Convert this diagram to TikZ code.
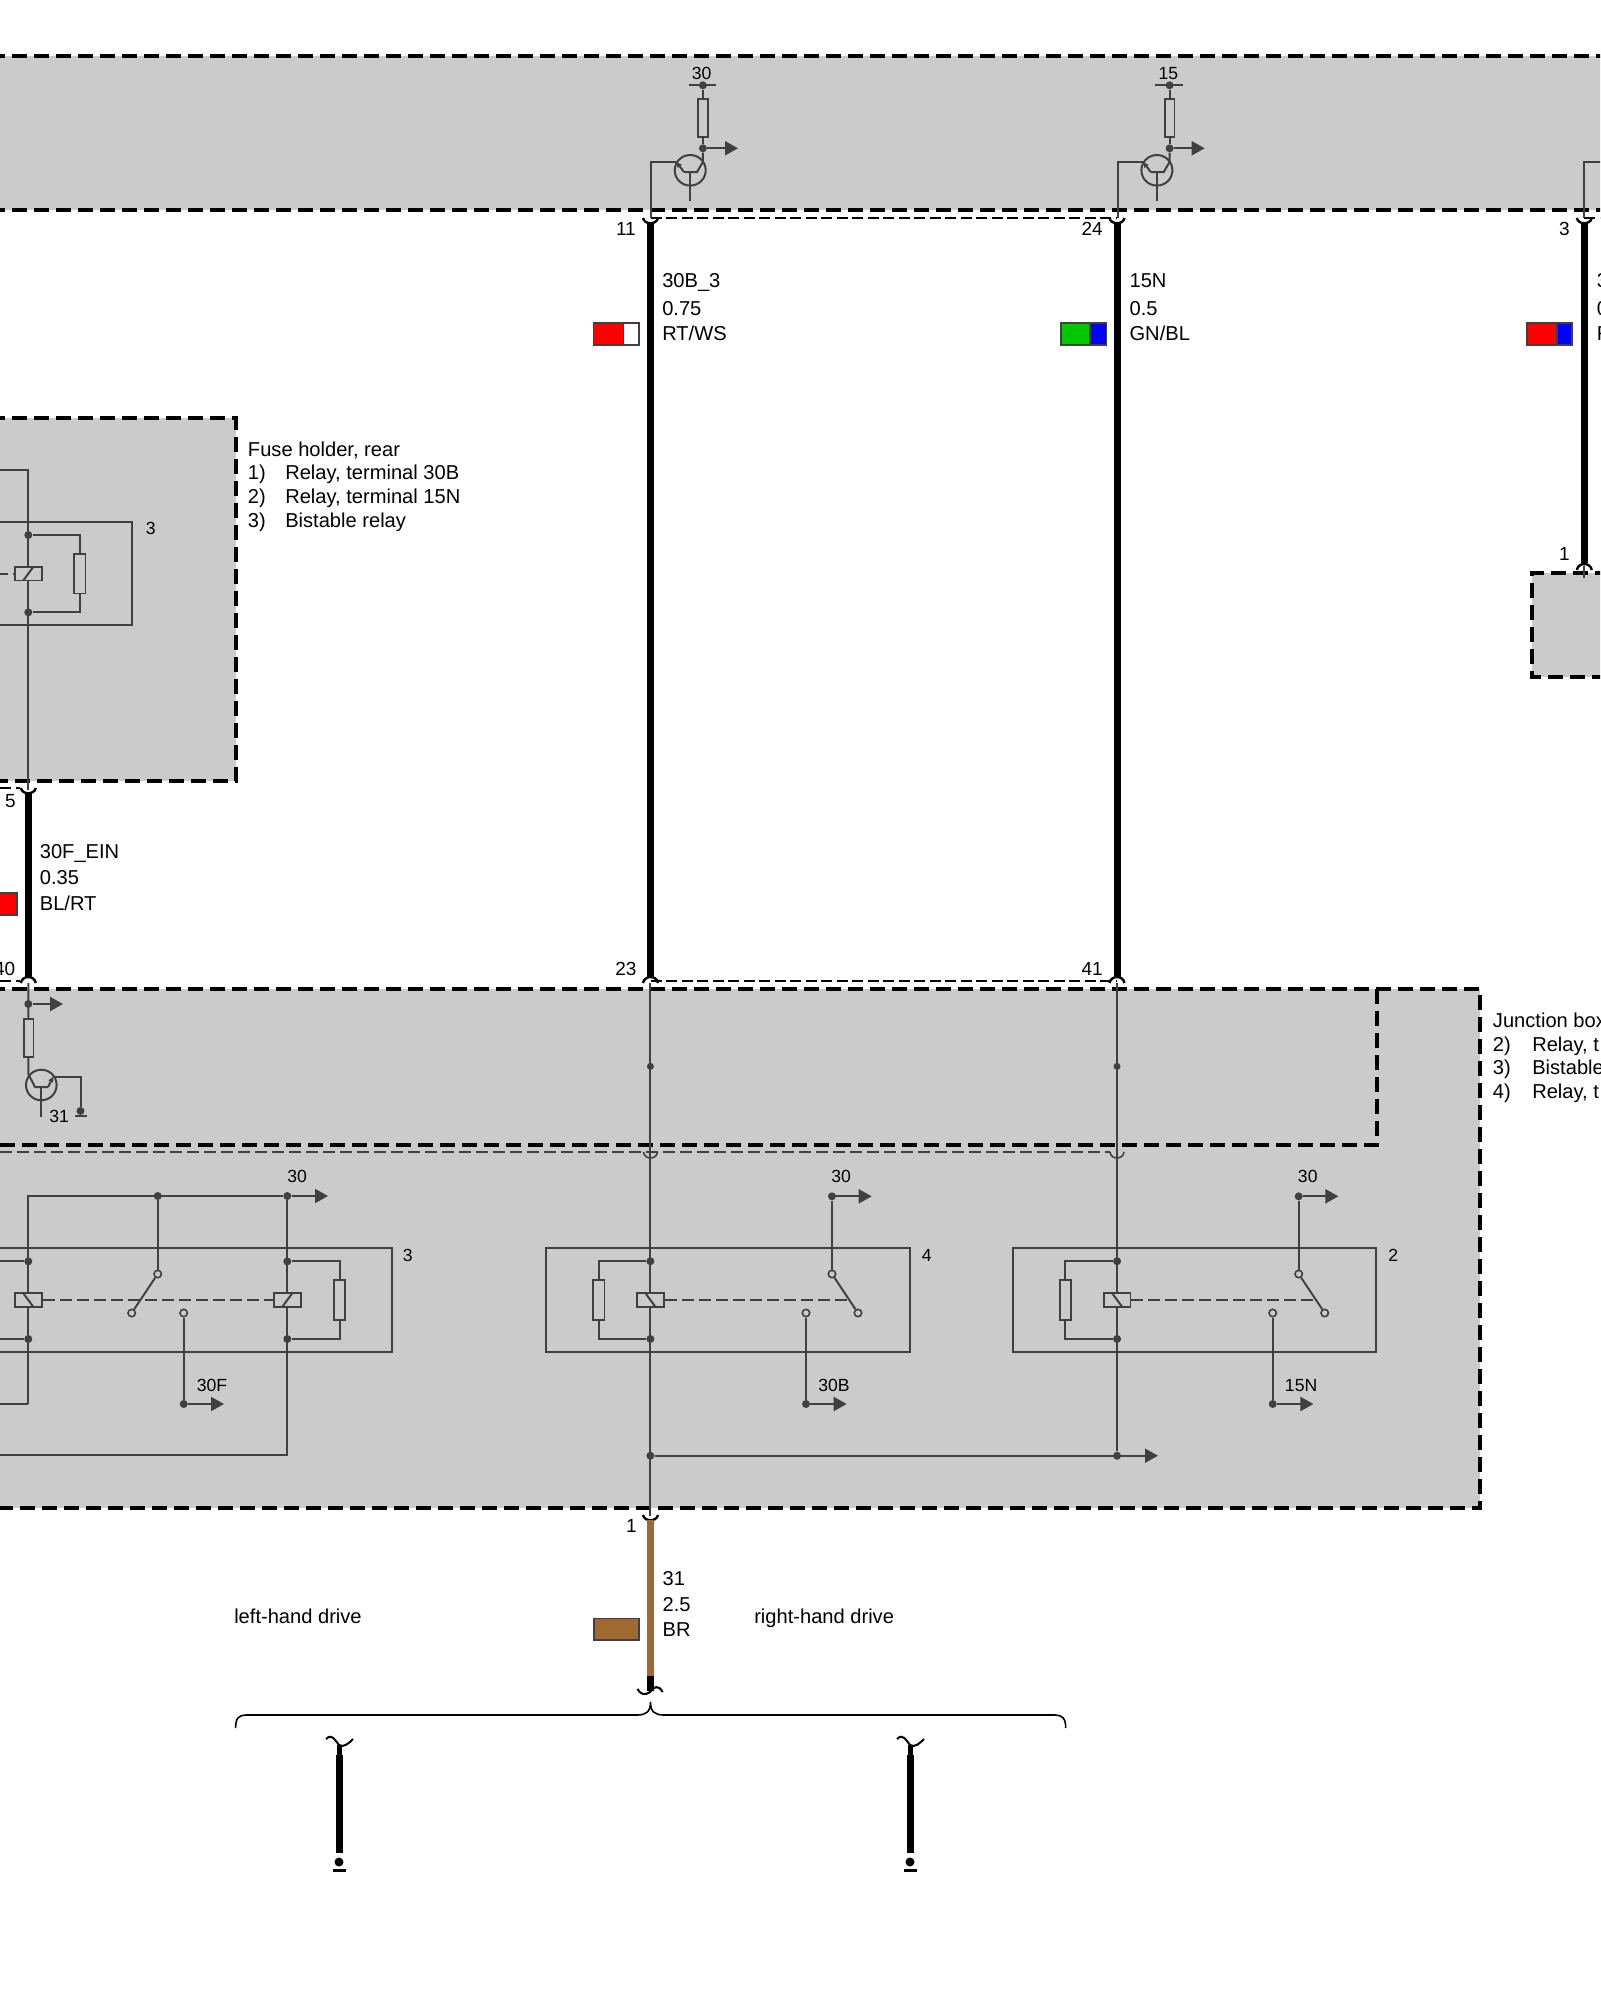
\documentclass[tikz,border=0pt]{standalone}
\usepackage{fontspec}
\setmainfont{Liberation Sans}
\usetikzlibrary{arrows.meta}

\definecolor{boxgray}{HTML}{CBCBCB}
\definecolor{linegray}{HTML}{404040}
\definecolor{brownwire}{HTML}{A0692F}
\definecolor{greenwire}{HTML}{00C800}

\def\xu{0.025cm}

\tikzset{
	boxedge/.style={black, line width=4*\xu, dash pattern=on 15*\xu off 7*\xu},
	pinrow/.style={black, line width=1.3*\xu, dash pattern=on 11*\xu off 4.5*\xu},
	linkrow/.style={linegray, line width=1.6*\xu, dash pattern=on 12*\xu off 5*\xu},
	thinwire/.style={linegray, line width=2*\xu},
	harness/.style={black, line width=7*\xu},
	signal/.style={thinwire, -{Triangle[length=13*\xu, width=14*\xu]}},
	junction/.style={circle, fill=linegray, inner sep=0pt, minimum size=8*\xu},
	contact/.style={circle, draw=linegray, fill=boxgray, line width=1.6*\xu, inner sep=0pt, minimum size=7.4*\xu},
	coil/.style={draw=linegray, fill=boxgray, line width=1.8*\xu, inner sep=0pt, minimum width=26.7*\xu, minimum height=13.6*\xu},
	resistor/.style={draw=linegray, fill=boxgray, line width=1.8*\xu, inner sep=0pt, minimum width=11.5*\xu, minimum height=39.5*\xu},
	smallres/.style={resistor, minimum width=9.5*\xu, minimum height=38*\xu},
	relaybox/.style={draw=linegray, line width=2*\xu},
	swatch/.style={draw=linegray, line width=1.5*\xu},
	texttag/.style={inner sep=0pt, anchor=base west, font=\fontsize{14.3}{16}\selectfont},
	pintag/.style={inner sep=0pt, anchor=base east, font=\fontsize{13.5}{15}\selectfont},
	smalltag/.style={inner sep=0pt, anchor=base west, font=\fontsize{12.5}{14}\selectfont},
	cuttag/.style={black, line width=2*\xu},
}

\begin{document}
\begin{tikzpicture}[x=\xu, y=-\xu]

\useasboundingbox (0,0) rectangle (1600,2000);
\clip (0,0) rectangle (1600,2000);

% module areas
\fill[boxgray] (-10,56) rectangle (1610,210);
\fill[boxgray] (-10,418) rectangle (235.5,781);
\fill[boxgray] (1532,573) rectangle (1610,677);
\fill[boxgray] (-10,989) -- (1480,989) -- (1480,1507.5) -- (-10,1507.5) -- cycle;

\draw[boxedge] (-10,56) -- (1610,56);
\draw[boxedge] (-10,210) -- (1610,210);
\draw[boxedge] (-10,418) -- (235.5,418) -- (235.5,781) -- (-10,781);
\draw[boxedge] (1610,573) -- (1532,573) -- (1532,677) -- (1610,677);
\draw[boxedge] (-10,989) -- (1480,989) -- (1480,1507.5) -- (-10,1507.5);
\draw[boxedge] (1377,989) -- (1377,1144.5) -- (-10,1144.5);

% pin rows
\draw[pinrow] (650.5,218) -- (1117,218);
\draw[pinrow] (1584.3,218) -- (1610,218);
\draw[pinrow] (650.5,981) -- (1117,981);
\draw[pinrow] (0,981) -- (20,981);
\draw[pinrow] (0,788) -- (20,788);
\draw[linkrow] (0,1152) -- (1110,1152);

% harness wires
\coordinate (pin11) at (650.5,222);
\coordinate (pin23) at (650.5,977);
\coordinate (pin24) at (1117,222);
\coordinate (pin41) at (1117,977);
\coordinate (pin3)  at (1584.3,222);
\coordinate (pin1)  at (1584.3,563);
\coordinate (pin5)  at (28.3,792);
\coordinate (pin40) at (28.3,977);
\draw[harness] (pin11) -- (pin23);
\draw[harness] (pin24) -- (pin41);
\draw[harness] (pin3) -- (pin1);
\draw[harness] (pin5) -- (pin40);

% pin cups
\foreach \x/\y/\d in {650.5/218/7, 1117/218/7, 1584.3/218/7, 28.3/788/7, 650.5/1515/7, 28.3/983/-8, 650.5/983/-8, 1117/983/-8, 1584.3/570/-8} {
	\draw[black, line width=2.4*\xu] (\x-7.5,\y) .. controls (\x-6,\y+\d) and (\x+6,\y+\d) .. (\x+7.5,\y);
}
\foreach \x in {650.5, 1117} {
	\draw[thinwire, line width=1.6*\xu] (\x-7,1152) .. controls (\x-6,1160) and (\x+6,1160) .. (\x+7,1152);
}

% drivers in the top module
\foreach \dx/\lab/\n in {0/30/a, 466.7/15/b} {
	\begin{scope}[shift={(\dx,0)}]
	\node[junction] (supply\n) at (702.9,85.3) {};
	\coordinate (barleft\n) at (688.6,85.3);
	\coordinate (barright\n) at (716,85.3);
	\node[smalltag, anchor=base] (lab\n) at (701.6,79) {\lab};
	\node[junction] (tap\n) at (702.9,148.3) {};
	\coordinate (out\n) at (738,148.3);
	\coordinate (coll\n) at (702.9,162);
	\coordinate (barr\n) at (697,172);
	\coordinate (barl\n) at (684,172);
	\coordinate (barm\n) at (690.2,172);
	\coordinate (base\n) at (690.2,201);
	\coordinate (emit\n) at (676.7,162.3);
	\coordinate (corner\n) at (651,162.3);
	\coordinate (pinend\n) at (651,218);
	\draw[thinwire] (barleft\n) -- (barright\n);
	\draw[thinwire] (supply\n) -- (tap\n);
	\node[smallres] (res\n) at (703.1,117.8) {};
	\draw[signal] (tap\n) -- (out\n);
	\draw[thinwire] (690.2,170.3) ellipse [x radius=15.5, y radius=15.3];
	\draw[thinwire] (tap\n) -- (coll\n) -- (barr\n) -- (barl\n);
	\draw[thinwire] (barm\n) -- (base\n);
	\draw[thinwire, -{Triangle[length=5*\xu, width=5*\xu]}] (barl\n) -- (emit\n);
	\draw[thinwire] (emit\n) -- (corner\n) -- (pinend\n);
	\end{scope}
}
\draw[thinwire] (1610,162) -- (1584.3,162) -- (1584.3,218);
\draw[thinwire] (1584.3,566) -- (1584.3,578);

% fuse holder
\node[junction] (fuseup) at (28.3,535) {};
\node[junction] (fusedn) at (28.3,612.3) {};
\draw[thinwire] (0,470.3) -- (28.3,470.3) -- (28.3,790);
\draw[relaybox] (-10,522.3) -- (131.7,522.3) -- (131.7,625.3) -- (-10,625.3);
\coordinate (fuseresup) at (79.7,535);
\coordinate (fuseresdn) at (79.7,612.3);
\draw[thinwire] (fuseup) -- (fuseresup) -- (fuseresdn) -- (fusedn);
\node[resistor] (fuseres) at (79.7,573.7) {};
\node[coil] (fusecoil) at (28.3,573.7) {};
\draw[thinwire] (fusecoil.center) ++(5,-6.8) -- ++(-10,13.6);
\draw[linkrow] (-4,573.7) -- (fusecoil.west);
\node[smalltag] (fusenum) at (145.5,534) {3};

% top of junction box, wire 40
\coordinate (w40top) at (28.3,983);
\node[junction] (w40tap) at (28.3,1004) {};
\coordinate (w40out) at (63,1004);
\coordinate (w40coll) at (28.3,1074);
\coordinate (w40barl) at (35,1087);
\coordinate (w40barr) at (48,1087);
\coordinate (w40barm) at (41.3,1087);
\coordinate (w40base) at (41.3,1117);
\coordinate (w40emit) at (53,1077);
\coordinate (w40gnd) at (80.5,1077);
\node[junction] (w40end) at (80.5,1111) {};
\draw[thinwire] (w40top) -- (w40coll) -- (w40barl) -- (w40barr);
\node[smallres] (w40res) at (28.8,1038) {};
\draw[signal] (w40tap) -- (w40out);
\draw[thinwire] (41.3,1085) circle [radius=15.3];
\draw[thinwire] (w40barm) -- (w40base);
\draw[thinwire, -{Triangle[length=5*\xu, width=5*\xu]}] (w40barr) -- (w40emit);
\draw[thinwire] (w40emit) -- (w40gnd) -- (w40end);
\draw[thinwire] (75,1116) -- (87,1116);
\node[smalltag] (w40lab) at (49,1122) {31};

% through wires in the junction box
\node[junction, minimum size=7*\xu] (split23) at (650.4,1066.4) {};
\node[junction, minimum size=7*\xu] (split41) at (1117,1066.4) {};
\node[junction] (gnd23) at (650.4,1455.7) {};
\node[junction] (gnd41) at (1117,1455.7) {};
\coordinate (gndout) at (1158,1455.7);
\coordinate (pin1top) at (650.4,983);
\coordinate (pin1low) at (650.4,1516);
\coordinate (pin41top) at (1117,983);
\draw[thinwire] (pin1top) -- (pin1low);
\draw[thinwire] (pin41top) -- (gnd41);
\draw[signal] (gnd23) -- (gndout);

% relays 4 and 2
\foreach \dx/\num/\lab in {0/4/30B, 466.7/2/15N} {
	\begin{scope}[shift={(\dx,0)}]
	\draw[relaybox] (546,1248) rectangle (909.7,1352);
	\node[smalltag] (num\num) at (921.5,1261) {\num};
	\node[junction] (up\num) at (650.4,1261.2) {};
	\node[junction] (dn\num) at (650.4,1339) {};
	\coordinate (resup\num) at (598.5,1261.2);
	\coordinate (resdn\num) at (598.5,1339);
	\draw[thinwire] (up\num) -- (resup\num) -- (resdn\num) -- (dn\num);
	\node[resistor] (res\num) at (598.7,1300) {};
	\node[coil] (coil\num) at (650.4,1300) {};
	\draw[thinwire] (coil\num.center) ++(-5,-6.8) -- ++(10,13.6);
	\coordinate (linkend\num) at (848,1300);
	\draw[linkrow] (coil\num.east) -- (linkend\num);
	\node[junction] (feed\num) at (832,1196.3) {};
	\coordinate (feedout\num) at (871.7,1196.3);
	\node[contact] (swtop\num) at (832,1274) {};
	\node[contact] (swlow\num) at (858,1313) {};
	\node[contact] (swout\num) at (806,1313) {};
	\node[junction] (load\num) at (806,1404) {};
	\coordinate (loadout\num) at (846.7,1404);
	\draw[signal] (feed\num) -- (feedout\num);
	\draw[thinwire] (feed\num) -- (swtop\num);
	\draw[thinwire] (swtop\num) -- (swlow\num);
	\draw[thinwire] (swout\num) -- (load\num);
	\draw[signal] (load\num) -- (loadout\num);
	\node[smalltag] (feedlab\num) at (831,1182) {30};
	\node[smalltag] (loadlab\num) at (818,1391) {\lab};
	\end{scope}
}

% bistable relay
\draw[relaybox] (-10,1248) -- (391.7,1248) -- (391.7,1352) -- (-10,1352);
\node[smalltag] (numbi) at (402.5,1261) {3};
\node[junction] (biupl) at (28.3,1261.4) {};
\node[junction] (bidnl) at (28.3,1339) {};
\node[junction] (biupr) at (287.3,1261.4) {};
\node[junction] (bidnr) at (287.3,1339) {};
\node[junction] (bimid) at (157.7,1196) {};
\node[junction] (bifeed) at (287.3,1196) {};
\coordinate (bicorner) at (28.3,1196);
\coordinate (biout) at (328,1196);
\coordinate (bilow) at (28.3,1404);
\coordinate (biret) at (287.3,1455);
\draw[thinwire] (bilow) -- (bicorner) -- (bifeed);
\draw[signal] (bifeed) -- (biout);
\draw[thinwire] (bifeed) -- (biret) -- (-10,1455);
\draw[thinwire] (bilow) -- (-10,1404);
\draw[thinwire] (biupl) -- (-10,1261.4);
\draw[thinwire] (bidnl) -- (-10,1339);
\coordinate (biresup) at (339.7,1261.4);
\coordinate (biresdn) at (339.7,1339);
\draw[thinwire] (biupr) -- (biresup) -- (biresdn) -- (bidnr);
\node[resistor] (bires) at (339.5,1300) {};
\node[coil] (bicoill) at (28.3,1300) {};
\node[coil] (bicoilr) at (287.3,1300) {};
\draw[thinwire] (bicoill.center) ++(-5,-6.8) -- ++(10,13.6);
\draw[thinwire] (bicoilr.center) ++(5,-6.8) -- ++(-10,13.6);
\draw[linkrow] (bicoill.east) -- (bicoilr.west);
\node[contact] (biswtop) at (157.7,1274) {};
\node[contact] (biswlow) at (131.7,1313) {};
\node[contact] (biswout) at (183.7,1313) {};
\node[junction] (biload) at (183.7,1404) {};
\coordinate (biloadout) at (224,1404);
\draw[thinwire] (bimid) -- (biswtop);
\draw[thinwire] (biswtop) -- (biswlow);
\draw[thinwire] (biswout) -- (biload);
\draw[signal] (biload) -- (biloadout);
\node[smalltag] (bilab30) at (287,1182) {30};
\node[smalltag] (bilab30f) at (196.5,1391) {30F};

% colour codes
\foreach \xa/\xb/\xc/\ya/\yb/\ca/\cb/\n in {
	593.5/623.7/639/323/345/red/white/a,
	1060.8/1090/1106.5/323/345/greenwire/blue/b,
	1527/1557/1572/323/345/red/blue/c,
	-10/-5/17/893/915/red/red/d,
	593.8/639/639/1618.7/1640/brownwire/brownwire/e} {
	\draw[swatch, fill=\ca] (\xa,\ya) rectangle (\xb,\yb);
	\draw[swatch, fill=\cb] (\xb,\ya) rectangle (\xc,\yb);
}

% wire labels
\foreach \x/\n/\ta/\tb/\tc/\ya/\yb/\yc in {
	662/a/30B\_3/0.75/RT\slash WS/287/315/340,
	1129.3/b/15N/0.5/GN\slash BL/287/315/340,
	1596.7/c/3/0/R/287/315/340,
	39.6/d/30F\_EIN/0.35/BL\slash RT/858/884.5/910.5,
	662.3/e/31/2.5/BR/1585/1611/1636} {
	\node[texttag] (wirelaba\n) at (\x,\ya) {\ta};
	\node[texttag] (wirelabb\n) at (\x,\yb) {\tb};
	\node[texttag] (wirelabc\n) at (\x,\yc) {\tc};
}

% pin numbers
\foreach \x/\y/\t in {636/235/11, 1103/235/24, 1570/235/3, 16/807/5, 15.5/975/40, 636.7/975/23, 1103/975/41, 1570/560/1, 637/1532/1} {
	\node[pintag] (pinno\t) at (\x,\y) {\t};
}

% legends
\node[texttag] (fusetitle) at (247.7,456) {Fuse holder, rear};
\foreach \y/\n/\t in {479/1/{Relay, terminal 30B}, 503/2/{Relay, terminal 15N}, 527/3/{Bistable relay}} {
	\node[texttag] (fuseno\n) at (247.7,\y) {\n)};
	\node[texttag] (fusetxt\n) at (285,\y) {\t};
}
\node[texttag] (boxtitle) at (1492.7,1027) {Junction box};
\foreach \y/\n/\t in {1051/2/{Relay, t}, 1074/3/{Bistable}, 1098/4/{Relay, t}} {
	\node[texttag] (boxno\n) at (1492.7,\y) {\n)};
	\node[texttag] (boxtxt\n) at (1532,\y) {\t};
}

% ground split
\coordinate (brstart) at (650.5,1520);
\coordinate (brend) at (650.5,1676);
\coordinate (brcut) at (650.5,1691);
\draw[harness, brownwire, line width=6.5*\xu] (brstart) -- (brend);
\draw[harness, line width=6.5*\xu] (brend) -- (brcut);
\draw[cuttag] (637.4,1689) .. controls (640,1694) and (645,1696) .. (650,1692) .. controls (654,1687) and (658,1684) .. (662.7,1692);
\draw[black, line width=1.6*\xu] (235.6,1728) .. controls (235.6,1718) and (239,1715) .. (246,1715) -- (637,1715) .. controls (646,1715) and (650.5,1712) .. (650.5,1702) .. controls (650.5,1712) and (655,1715) .. (664,1715) -- (1055,1715) .. controls (1062,1715) and (1065.7,1718) .. (1065.7,1728);
\node[texttag] (lhd) at (234,1623) {left-hand drive};
\node[texttag] (rhd) at (754,1623) {right-hand drive};

\foreach \x/\n in {339/l, 910/r} {
	\coordinate (cut\n) at (\x,1745);
	\coordinate (mid\n) at (\x,1755);
	\coordinate (end\n) at (\x,1853);
	\node[circle, fill=black, inner sep=0pt, minimum size=9*\xu] (gnd\n) at (\x,1862) {};
	\draw[harness, line width=5*\xu] (cut\n) -- (mid\n);
	\draw[harness] (mid\n) -- (end\n);
	\draw[cuttag] (\x-13,1739) .. controls (\x-7,1733) and (\x-4,1740) .. (\x,1745) .. controls (\x+5,1748) and (\x+10,1743) .. (\x+14,1739);
	\draw[black, line width=3*\xu] (\x-6.5,1870.5) -- (\x+6.5,1870.5);
}

\end{tikzpicture}
\end{document}
